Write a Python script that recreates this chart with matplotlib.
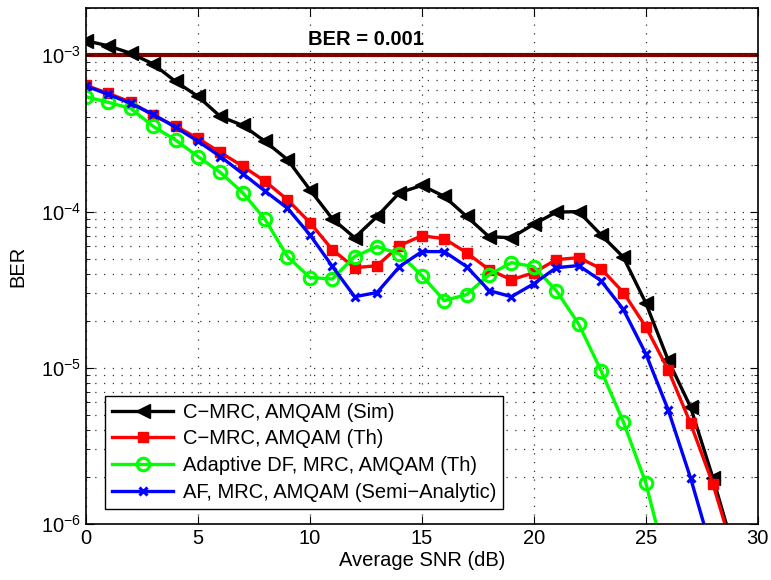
import matplotlib
matplotlib.use('Agg')
import matplotlib.pyplot as plt
from matplotlib.ticker import LogLocator, NullFormatter, MultipleLocator

plt.rcParams['font.family'] = ['Liberation Sans', 'DejaVu Sans']
plt.rcParams['mathtext.fontset'] = 'custom'
plt.rcParams['mathtext.rm'] = 'Liberation Sans'
plt.rcParams['mathtext.it'] = 'Liberation Sans'

# BER vs average SNR (dB)
snr = list(range(0, 31))

ber_cmrc_sim = [1.24e-3, 1.15e-3, 1.03e-3, 8.8e-4, 6.8e-4, 5.46e-4, 4.06e-4, 3.56e-4,
                2.81e-4, 2.15e-4, 1.38e-4, 9.0e-5, 6.8e-5, 9.3e-5, 1.32e-4, 1.47e-4,
                1.25e-4, 9.3e-5, 6.9e-5, 6.8e-5, 8.3e-5, 9.9e-5, 1.0e-4, 7.1e-5,
                5.1e-5, 2.6e-5, 1.12e-5, 5.6e-6, 1.97e-6, 6.3e-7, 2.0e-7]
ber_cmrc_th = [6.42e-4, 5.7e-4, 5.02e-4, 4.12e-4, 3.52e-4, 2.94e-4, 2.39e-4, 1.95e-4,
               1.56e-4, 1.19e-4, 8.5e-5, 5.7e-5, 4.37e-5, 4.5e-5, 6.05e-5, 7.0e-5,
               6.7e-5, 5.45e-5, 4.25e-5, 3.66e-5, 4.06e-5, 4.92e-5, 5.07e-5, 4.31e-5,
               3.03e-5, 1.83e-5, 9.7e-6, 4.4e-6, 1.8e-6, 6.0e-7, 2.0e-7]
ber_df_th = [5.43e-4, 5.0e-4, 4.57e-4, 3.51e-4, 2.87e-4, 2.25e-4, 1.78e-4, 1.32e-4,
             8.9e-5, 5.15e-5, 3.78e-5, 3.7e-5, 5.15e-5, 5.97e-5, 5.35e-5, 3.89e-5,
             2.69e-5, 2.94e-5, 3.94e-5, 4.71e-5, 4.44e-5, 3.12e-5, 1.91e-5, 9.6e-6,
             4.5e-6, 1.83e-6, 5.0e-7, 1.5e-7, 5e-8, 2e-8, 1e-8]
ber_af_semi = [6.35e-4, 5.62e-4, 4.92e-4, 4.19e-4, 3.46e-4, 2.82e-4, 2.25e-4, 1.75e-4,
               1.35e-4, 1.05e-4, 7.1e-5, 4.46e-5, 2.85e-5, 3.03e-5, 4.44e-5, 5.54e-5,
               5.54e-5, 4.44e-5, 3.12e-5, 2.85e-5, 3.45e-5, 4.37e-5, 4.51e-5, 3.61e-5,
               2.36e-5, 1.23e-5, 5.38e-6, 1.97e-6, 6.3e-7, 2.0e-7, 6e-8]

fig = plt.figure(figsize=(7.71, 5.8), dpi=100)
ax = fig.add_axes([0.1115, 0.0966, 0.8713, 0.8891])

ax.axhline(1e-3, color='#800000', lw=3, zorder=1)
ax.text(12.5, 1.27e-3, 'BER = 0.001', fontsize=14.5, fontweight='bold', ha='center', va='center')

ax.plot(snr, ber_cmrc_sim, '-<', color='k', lw=2.4, ms=10, label='C\u2212MRC, AMQAM (Sim)')
ax.plot(snr, ber_cmrc_th, '-s', color='#ff0000', lw=2.4, ms=7, label='C\u2212MRC, AMQAM (Th)')
ax.plot(snr, ber_df_th, '-o', color='#00ff00', lw=2.4, ms=9, mfc='none', mew=2.2,
        label='Adaptive DF, MRC, AMQAM (Th)')
ax.plot(snr, ber_af_semi, '-x', color='#0000ff', lw=2.4, ms=6, mew=2.2,
        label='AF, MRC, AMQAM (Semi\u2212Analytic)')

ax.set_yscale('log')
ax.set_xlim(0, 30)
ax.set_ylim(1e-6, 2e-3)
ax.xaxis.set_major_locator(MultipleLocator(5))
ax.yaxis.set_major_locator(LogLocator(base=10, numticks=10))
ax.yaxis.set_minor_locator(LogLocator(base=10, subs=range(2, 10), numticks=10))
ax.yaxis.set_minor_formatter(NullFormatter())
grid_style = dict(linestyle=(0, (1, 6)), color='#333333', lw=0.9)
ax.grid(True, which='major', **grid_style)
ax.grid(True, which='minor', axis='y', **grid_style)
ax.tick_params(which='both', direction='in', top=True, right=True, labelsize=14.5)
ax.tick_params(which='major', length=6)
ax.tick_params(which='minor', length=3)
for s in ax.spines.values():
    s.set_linewidth(1.2)

ax.set_xlabel('Average SNR (dB)', fontsize=14.5, labelpad=2)
ax.set_ylabel('BER', fontsize=14.5, labelpad=10)

leg = ax.legend(loc='lower left', bbox_to_anchor=(0.014, 0.01), fontsize=14.5,
                handlelength=3.0, fancybox=False, framealpha=1, edgecolor='k',
                borderpad=0.35, labelspacing=0.38, handletextpad=0.5)
leg.get_frame().set_linewidth(1.0)

plt.savefig('out.png', dpi=100)
plt.close()
